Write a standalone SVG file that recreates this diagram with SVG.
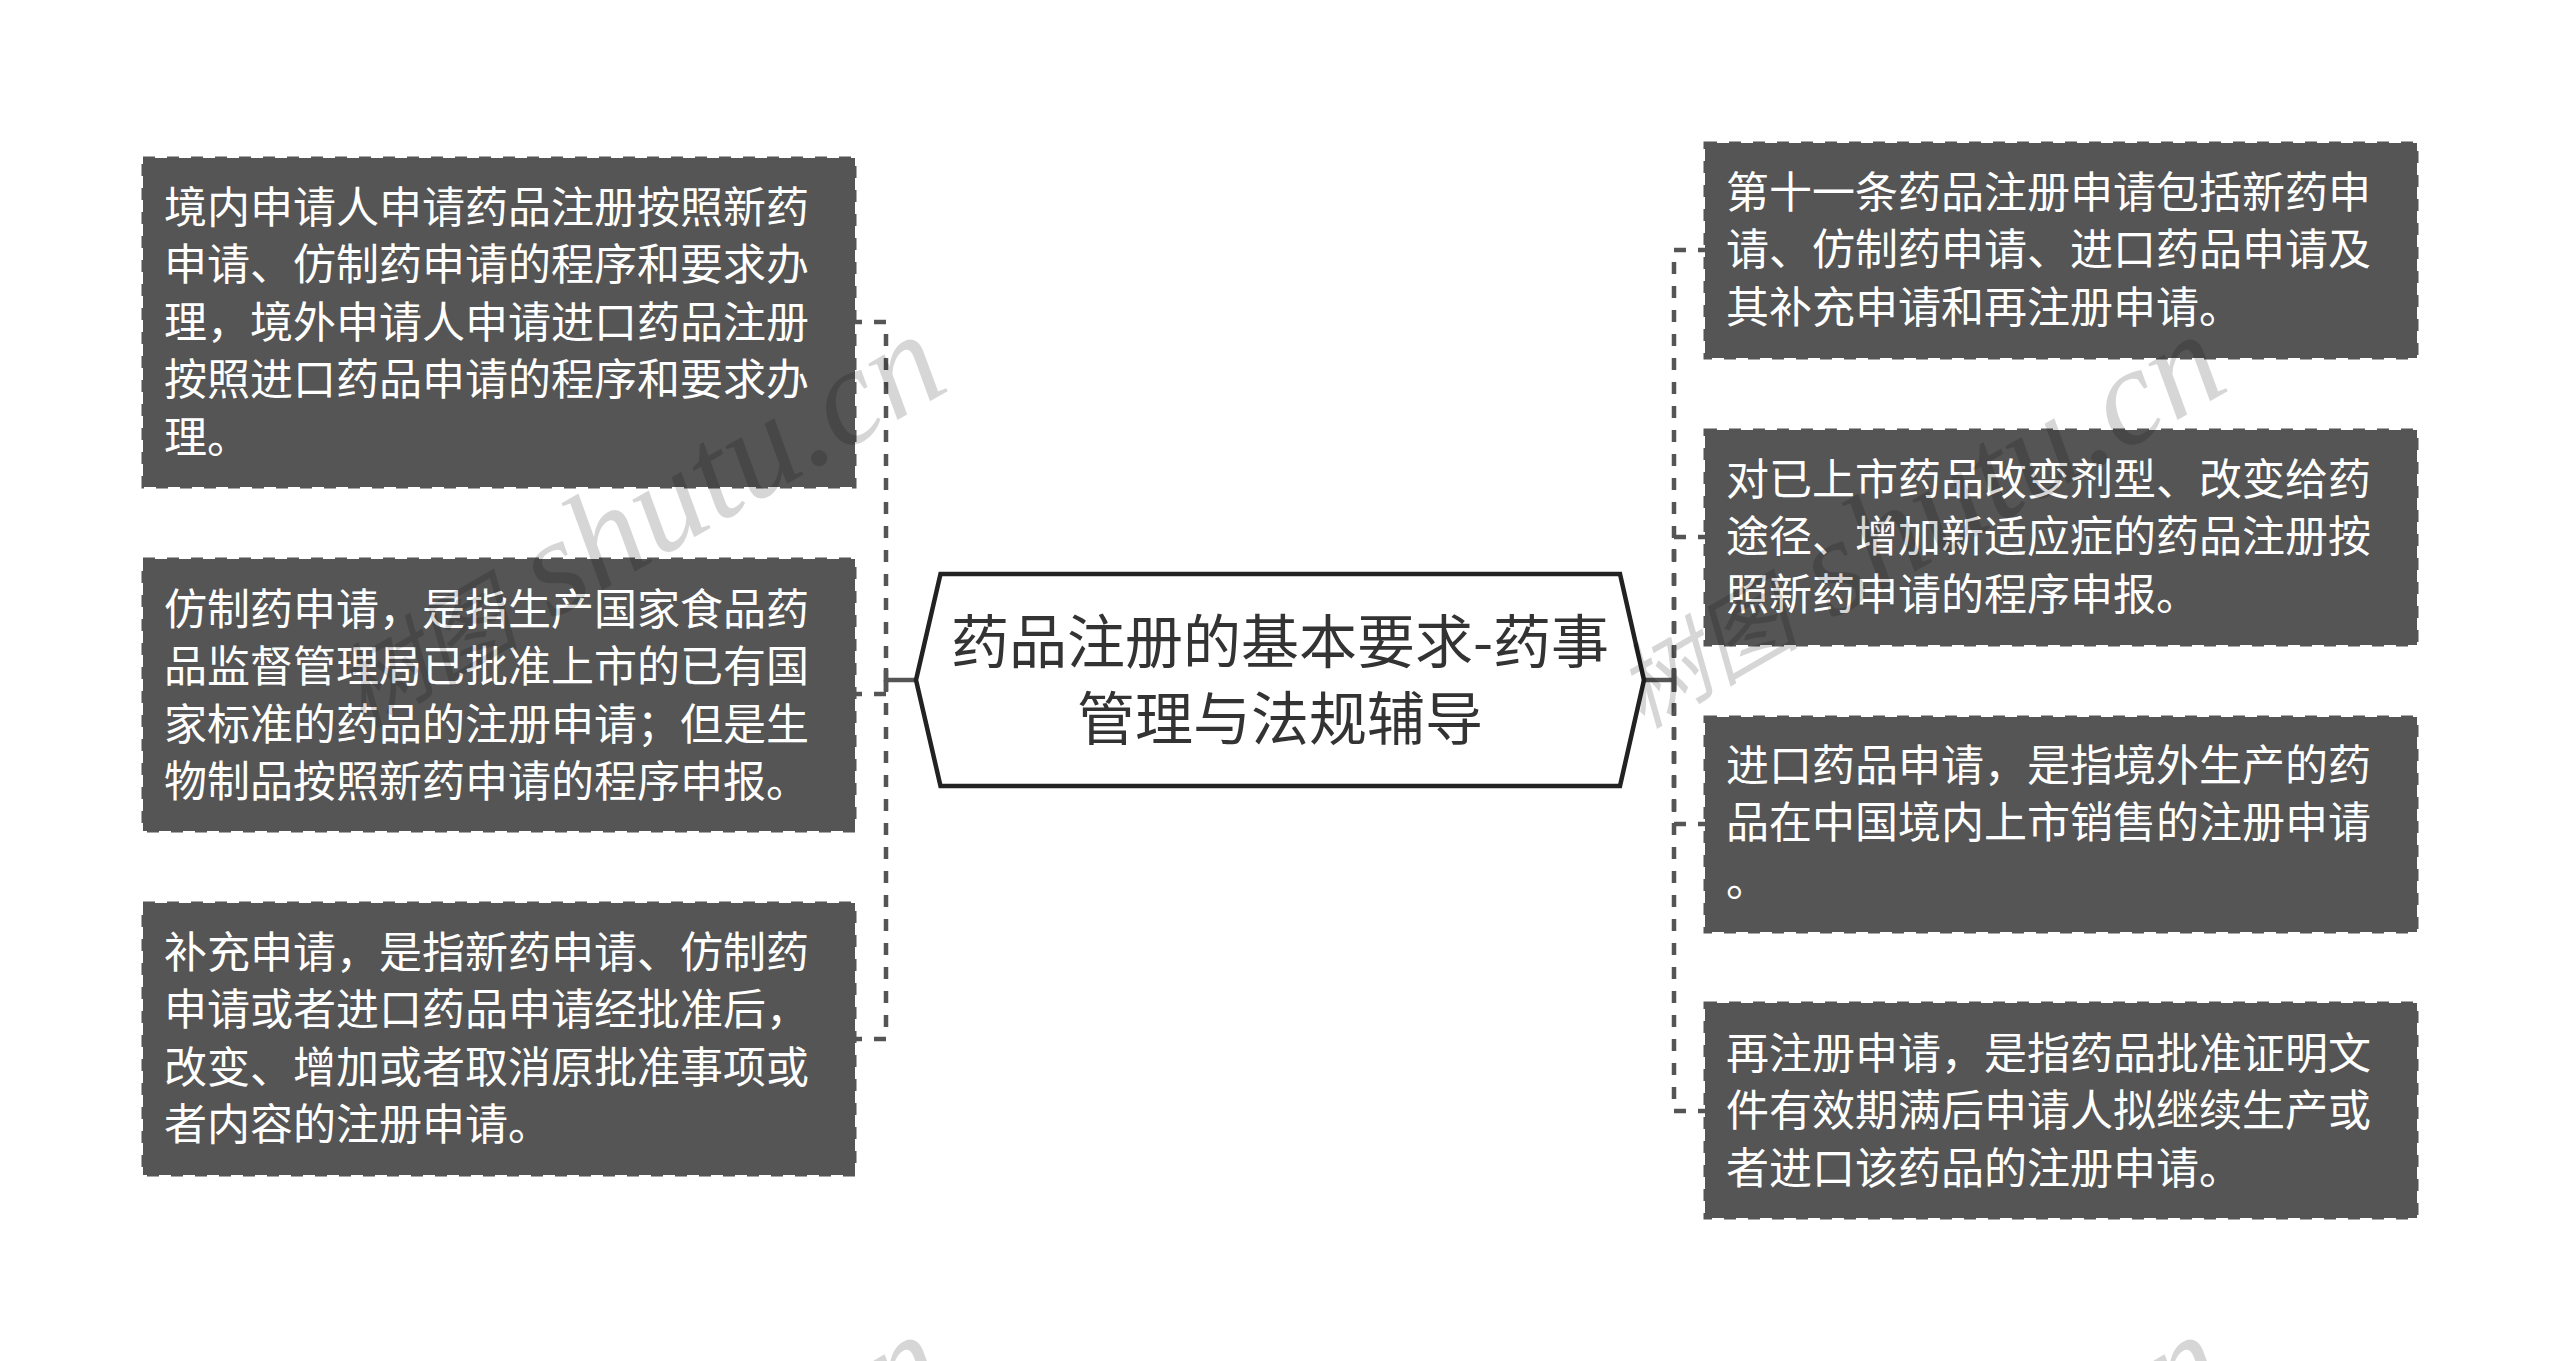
<svg xmlns="http://www.w3.org/2000/svg" width="2560" height="1361" viewBox="0 0 2560 1361">
<style>
.box{fill:#555;stroke:#555;stroke-width:3;stroke-dasharray:12 12}
.t{font-family:"Noto Sans CJK SC","Liberation Sans",sans-serif;font-size:43px;fill:#fff}
.title{font-family:"Noto Sans CJK SC","Liberation Sans",sans-serif;font-size:58px;fill:#333;text-anchor:middle}
.dash{fill:none;stroke:#555;stroke-width:4.500;stroke-dasharray:12 12}
.solid{fill:none;stroke:#555;stroke-width:4.500}
.wm{font-family:"Liberation Serif","Noto Sans CJK SC",serif;font-style:italic;font-size:138px;fill:#000;fill-opacity:.16;text-anchor:end}
.wc{font-size:92px}
</style>
<rect width="2560" height="1361" fill="#fff"/>
<g id="connectors">
<path class="dash" d="M850 322H886V680"/>
<path class="dash" d="M850 694H886V680"/>
<path class="dash" d="M850 1039H886V680"/>
<path class="solid" d="M886 680H916"/>
<path class="solid" d="M886 668V692"/>
<path class="dash" d="M1710 250H1674V680"/>
<path class="dash" d="M1710 537H1674V680"/>
<path class="dash" d="M1710 824H1674V680"/>
<path class="dash" d="M1710 1111H1674V680"/>
<path class="solid" d="M1644 680H1674"/>
<path class="solid" d="M1674 668V692"/>
</g>
<g id="root">
<path d="M940.500 574H1620L1644 680L1620 786H940.500L916 680Z" fill="#fff" stroke="#222" stroke-width="4.500"/>
<text class="title" x="1280"><tspan x="1280" y="663">药品注册的基本要求-药事</tspan><tspan x="1280" y="740">管理与法规辅导</tspan></text>
</g>
<g id="left-1">
<rect class="box" x="143" y="158" width="712" height="329"/>
<text class="t"><tspan x="164" y="223">境内申请人申请药品注册按照新药</tspan><tspan x="164" y="280.400">申请、仿制药申请的程序和要求办</tspan><tspan x="164" y="337.800">理，境外申请人申请进口药品注册</tspan><tspan x="164" y="395.200">按照进口药品申请的程序和要求办</tspan><tspan x="164" y="452.600">理。</tspan></text>
</g>
<g id="left-2">
<rect class="box" x="143" y="559" width="712" height="272"/>
<text class="t"><tspan x="164" y="625">仿制药申请，是指生产国家食品药</tspan><tspan x="164" y="682.400">品监督管理局已批准上市的已有国</tspan><tspan x="164" y="739.800">家标准的药品的注册申请；但是生</tspan><tspan x="164" y="797.200">物制品按照新药申请的程序申报。</tspan></text>
</g>
<g id="left-3">
<rect class="box" x="143" y="903" width="712" height="272"/>
<text class="t"><tspan x="164" y="968">补充申请，是指新药申请、仿制药</tspan><tspan x="164" y="1025.400">申请或者进口药品申请经批准后，</tspan><tspan x="164" y="1082.800">改变、增加或者取消原批准事项或</tspan><tspan x="164" y="1140.200">者内容的注册申请。</tspan></text>
</g>
<g id="right-1">
<rect class="box" x="1705" y="143" width="712" height="215"/>
<text class="t"><tspan x="1726" y="208">第十一条药品注册申请包括新药申</tspan><tspan x="1726" y="265.400">请、仿制药申请、进口药品申请及</tspan><tspan x="1726" y="322.800">其补充申请和再注册申请。</tspan></text>
</g>
<g id="right-2">
<rect class="box" x="1705" y="430" width="712" height="215"/>
<text class="t"><tspan x="1726" y="495">对已上市药品改变剂型、改变给药</tspan><tspan x="1726" y="552.400">途径、增加新适应症的药品注册按</tspan><tspan x="1726" y="609.800">照新药申请的程序申报。</tspan></text>
</g>
<g id="right-3">
<rect class="box" x="1705" y="717" width="712" height="215"/>
<text class="t"><tspan x="1726" y="781">进口药品申请，是指境外生产的药</tspan><tspan x="1726" y="838.400">品在中国境内上市销售的注册申请</tspan><tspan x="1726" y="895.800">。</tspan></text>
</g>
<g id="right-4">
<rect class="box" x="1705" y="1003" width="712" height="215"/>
<text class="t"><tspan x="1726" y="1069">再注册申请，是指药品批准证明文</tspan><tspan x="1726" y="1126.400">件有效期满后申请人拟继续生产或</tspan><tspan x="1726" y="1183.800">者进口该药品的注册申请。</tspan></text>
</g>
<g id="watermarks">
<text class="wm" transform="translate(953 388) rotate(-30)"><tspan class="wc">树图</tspan> shutu.cn</text>
<text class="wm" transform="translate(2233 388) rotate(-30)"><tspan class="wc">树图</tspan> shutu.cn</text>
<text class="wm" transform="translate(953 1388) rotate(-30)"><tspan class="wc">树图</tspan> shutu.cn</text>
<text class="wm" transform="translate(2233 1388) rotate(-30)"><tspan class="wc">树图</tspan> shutu.cn</text>
</g>
</svg>
